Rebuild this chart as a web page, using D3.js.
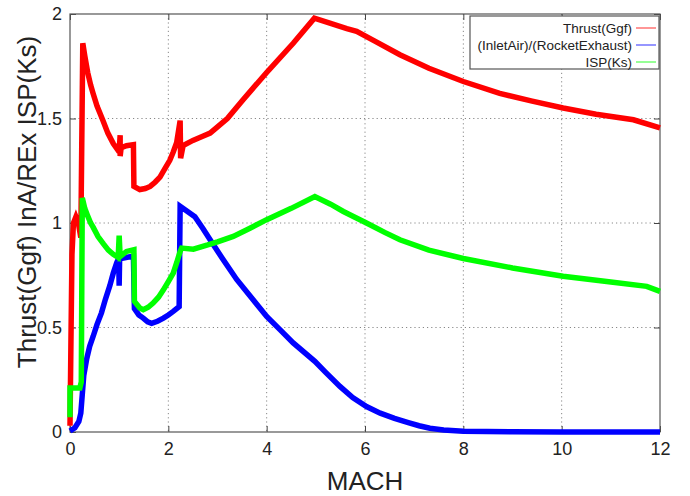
<!DOCTYPE html>
<html><head><meta charset="utf-8">
<script src="https://cdn.jsdelivr.net/npm/d3@7"></script>
<style>
html,body{margin:0;padding:0;background:#fff;}
text{font-family:"Liberation Sans",Arial,Helvetica,sans-serif;}
</style></head>
<body><svg id="chart" width="690" height="496"></svg>
<script>
// ---- data ----
const xTicks = [0, 2, 4, 6, 8, 10, 12];
const yTicks = [0, 0.5, 1, 1.5, 2];
const yTickLabels = ["0", "0.5", "1", "1.5", "2"];
const seriesNames = ["Thrust(Ggf)", "(InletAir)/(RocketExhaust)", "ISP(Ks)"];
const seriesColors = ["#ff0000", "#0000ff", "#00ff00"];

const thrustMach = [0, 0.02, 0.04, 0.07, 0.12, 0.17, 0.22, 0.26, 0.3, 0.36, 0.42, 0.47, 0.55, 0.67, 0.77, 0.88, 1.0, 1.02, 1.02, 1.04, 1.15, 1.29, 1.3, 1.42, 1.53, 1.63, 1.73, 1.83, 1.93, 2.03, 2.1, 2.17, 2.24, 2.25, 2.30, 2.5, 2.7, 2.85, 3.2, 3.52, 4.0, 4.54, 4.97, 5.3, 5.63, 5.83, 6.2, 6.71, 7.3, 8.0, 8.74, 9.4, 10.03, 10.7, 11.46, 12];
const thrustVal  = [0.03, 0.45, 0.85, 1.0, 1.03, 1.0, 0.93, 1.86, 1.80, 1.72, 1.66, 1.62, 1.56, 1.49, 1.43, 1.38, 1.34, 1.42, 1.32, 1.36, 1.37, 1.375, 1.175, 1.16, 1.165, 1.175, 1.195, 1.22, 1.26, 1.30, 1.34, 1.385, 1.49, 1.31, 1.37, 1.395, 1.415, 1.43, 1.50, 1.59, 1.72, 1.86, 1.98, 1.955, 1.93, 1.917, 1.87, 1.805, 1.74, 1.677, 1.62, 1.583, 1.55, 1.52, 1.494, 1.455];

const inletMach = [0, 0.1, 0.18, 0.22, 0.25, 0.28, 0.34, 0.4, 0.47, 0.55, 0.64, 0.72, 0.81, 0.88, 0.95, 0.99, 1.0, 1.01, 1.08, 1.19, 1.29, 1.31, 1.4, 1.49, 1.58, 1.66, 1.78, 1.90, 2.0, 2.10, 2.22, 2.24, 2.54, 2.7, 2.85, 3.1, 3.39, 3.7, 4.0, 4.27, 4.54, 4.98, 5.2, 5.49, 5.75, 6.03, 6.31, 6.6, 6.88, 7.1, 7.32, 7.6, 8.0, 9.0, 10.0, 12.0];
const inletVal  = [0.005, 0.02, 0.05, 0.09, 0.18, 0.27, 0.35, 0.41, 0.457, 0.515, 0.57, 0.635, 0.70, 0.76, 0.81, 0.83, 0.70, 0.84, 0.832, 0.837, 0.84, 0.59, 0.56, 0.545, 0.527, 0.52, 0.53, 0.545, 0.56, 0.577, 0.60, 1.08, 1.03, 0.975, 0.92, 0.83, 0.73, 0.64, 0.553, 0.49, 0.426, 0.338, 0.285, 0.218, 0.165, 0.122, 0.09, 0.065, 0.045, 0.03, 0.018, 0.01, 0.004, 0.001, 0.0, 0.0];

const ispMach = [0, 0, 0.2, 0.23, 0.24, 0.25, 0.3, 0.35, 0.42, 0.47, 0.57, 0.68, 0.78, 0.88, 0.98, 1.0, 1.02, 1.15, 1.30, 1.31, 1.42, 1.49, 1.59, 1.69, 1.8, 1.90, 2.0, 2.10, 2.17, 2.24, 2.27, 2.51, 2.8, 3.0, 3.32, 3.66, 4.0, 4.5, 4.98, 5.3, 5.56, 6.03, 6.4, 6.71, 7.3, 8.0, 9.0, 10.03, 11.0, 11.73, 12];
const ispVal  = [0.07, 0.21, 0.21, 0.24, 0.7, 1.12, 1.07, 1.04, 1.0, 0.98, 0.935, 0.90, 0.87, 0.85, 0.835, 0.94, 0.84, 0.864, 0.872, 0.625, 0.593, 0.585, 0.597, 0.617, 0.645, 0.68, 0.72, 0.76, 0.81, 0.864, 0.88, 0.875, 0.895, 0.91, 0.936, 0.975, 1.016, 1.07, 1.127, 1.09, 1.055, 1.0, 0.955, 0.92, 0.87, 0.83, 0.785, 0.745, 0.718, 0.697, 0.673];

// ---- layout ----
const L = 70, R = 660, T = 14, B = 432;
const svg = d3.select("#chart");
const x = d3.scaleLinear().domain([0, 12]).range([L, R]);
const y = d3.scaleLinear().domain([0, 2]).range([B, T]);

// grid
const grid = svg.append("g");
grid.selectAll(".gx").data(xTicks.slice(1, -1)).enter().append("line")
  .attr("x1", d => x(d)).attr("x2", d => x(d)).attr("y1", T).attr("y2", B)
  .attr("stroke", "#888").attr("stroke-width", 1).attr("stroke-dasharray", "1.2,3");
grid.selectAll(".gy").data(yTicks.slice(1, -1)).enter().append("line")
  .attr("x1", L).attr("x2", R).attr("y1", d => y(d)).attr("y2", d => y(d))
  .attr("stroke", "#888").attr("stroke-width", 1).attr("stroke-dasharray", "1.2,3");

// axes (inward ticks, mirrored)
const ax = svg.append("g");
ax.append("g").attr("transform", `translate(0,${B})`)
  .call(d3.axisBottom(x).tickValues(xTicks).tickSize(-6).tickPadding(10).tickFormat(d3.format("d")))
  .call(g => g.select(".domain").remove());
ax.append("g").attr("transform", `translate(0,${T})`)
  .call(d3.axisTop(x).tickValues(xTicks).tickSize(-6).tickFormat(""))
  .call(g => g.select(".domain").remove());
ax.append("g").attr("transform", `translate(${L},0)`)
  .call(d3.axisLeft(y).tickValues(yTicks).tickSize(-6).tickPadding(8).tickFormat((d, i) => yTickLabels[i]))
  .call(g => g.select(".domain").remove());
ax.append("g").attr("transform", `translate(${R},0)`)
  .call(d3.axisRight(y).tickValues(yTicks).tickSize(-6).tickFormat(""))
  .call(g => g.select(".domain").remove());
ax.selectAll(".tick line").attr("stroke", "#444");
ax.selectAll(".tick text").attr("font-size", 18).attr("fill", "#222")
  .style("font-family", "'Liberation Sans', Arial, sans-serif");

// frame
svg.append("rect").attr("x", L).attr("y", T).attr("width", R - L).attr("height", B - T)
  .attr("fill", "none").attr("stroke", "#555").attr("stroke-width", 1.2);

// series
const series = [
  {mach: thrustMach, val: thrustVal},
  {mach: inletMach, val: inletVal},
  {mach: ispMach, val: ispVal}
];
const line = d3.line().x(d => x(d[0])).y(d => y(d[1]));
series.forEach((s, i) => {
  svg.append("path")
    .datum(s.mach.map((m, j) => [m, s.val[j]]))
    .attr("d", line)
    .attr("fill", "none")
    .attr("stroke", seriesColors[i])
    .attr("stroke-width", 5.5)
    .attr("stroke-linejoin", "miter")
    .attr("stroke-miterlimit", 3);
});

// axis titles
svg.append("text").attr("x", (L + R) / 2).attr("y", 490).attr("text-anchor", "middle")
  .attr("font-size", 26).attr("fill", "#222").text("MACH");
svg.append("text").attr("transform", "translate(36,202) rotate(-90)").attr("text-anchor", "middle")
  .attr("font-size", 26).attr("fill", "#222").text("Thrust(Ggf) InA/REx ISP(Ks)");

// legend
const lg = svg.append("g");
lg.append("rect").attr("x", 470).attr("y", 16).attr("width", 189).attr("height", 53)
  .attr("fill", "#fff").attr("stroke", "#555").attr("stroke-width", 1.2);
const rowsY = [28, 45, 62];
seriesNames.forEach((n, i) => {
  lg.append("text").attr("x", 632).attr("y", rowsY[i]).attr("dy", "0.35em")
    .attr("text-anchor", "end").attr("font-size", 13.5).attr("fill", "#222").text(n);
  lg.append("line").attr("x1", 636).attr("x2", 656).attr("y1", rowsY[i]).attr("y2", rowsY[i])
    .attr("stroke", seriesColors[i]).attr("stroke-width", 1.5).attr("stroke-opacity", 0.55);
});
</script></body></html>
